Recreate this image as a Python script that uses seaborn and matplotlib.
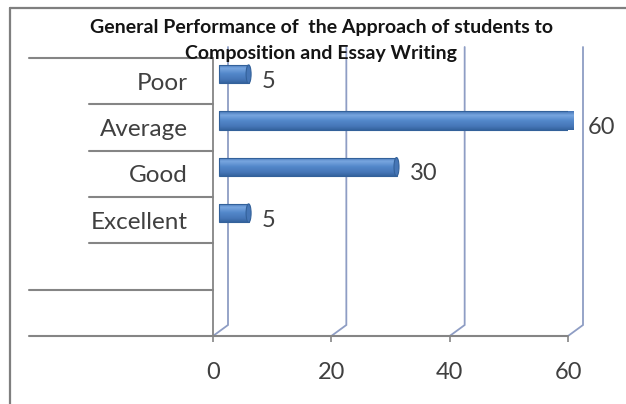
import numpy as np
import pandas as pd
import matplotlib
matplotlib.use("Agg")
import matplotlib.pyplot as plt
from matplotlib.lines import Line2D
from matplotlib.patches import Ellipse
from matplotlib.transforms import ScaledTranslation
from matplotlib.colors import to_rgb
import seaborn as sns

# Ratings and number of students in each
categories = ["Poor", "Average", "Good", "Excellent"]
students = [5, 60, 30, 5]
x_ticks = [0, 20, 40, 60]
title_lines = ["General Performance of  the Approach of students to",
               "Composition and Essay Writing"]

sns.set_theme(style="white")
plt.rcParams["font.family"] = ["Lato", "DejaVu Sans"]

TEXT = "#404040"
AXIS = "#858585"
WALL = "#8E9DC4"

W, H = 626, 404
fig = plt.figure(figsize=(W / 100, H / 100), dpi=100)
fig.patch.set_facecolor("white")
ax = fig.add_axes([213 / W, (H - 336) / H, (568 - 213) / W, (336 - 58) / H])
ax.set_facecolor("white")

df = pd.DataFrame({"rating": categories, "students": students})
sns.barplot(data=df, x="students", y="rating", orient="h", color="#4F81BD",
            width=0.40, errorbar=None, ax=ax, edgecolor="#33619A", linewidth=0.8)

n_slots = 6
ax.set_xlim(0, 60)
ax.set_ylim(n_slots - 0.5, -0.5)
for s in ax.spines.values():
    s.set_visible(False)

# pixel-per-unit scales for the pseudo 3D depth
bb = ax.get_window_extent()
ux = bb.width / 60.0
uy = bb.height / n_slots
dx, dy = 15 / ux, 11 / uy

# back wall gridlines with floor connectors
for v in x_ticks:
    ax.plot([v, v + dx, v + dx], [n_slots - 0.5, n_slots - 0.5 - dy, -0.5 - dy],
            color=WALL, lw=1.3, clip_on=False, zorder=1, solid_joinstyle="miter")

# front category axis
ax.plot([0, 0], [n_slots - 0.5, -0.5], color=AXIS, lw=1.3, clip_on=False, zorder=1.5)

# horizontal separators on the category side
sep_left_px = [29, 89, 89, 89, 89, 29]
for i, lp in enumerate(sep_left_px):
    ax.plot([(lp - 213) / ux, 0], [i - 0.5, i - 0.5], color=AXIS, lw=1.5,
            clip_on=False, zorder=1.5)
# floor / value axis line
ax.plot([(29 - 213) / ux, 60], [n_slots - 0.5, n_slots - 0.5], color=AXIS, lw=1.5,
        clip_on=False, zorder=1.5)

# cylinder-like shading for the bars
stops = [(0.0, "#4474B4"), (0.22, "#78A6E0"), (0.5, "#5388CA"), (0.8, "#4677B8"), (1.0, "#35639F")]
pos = np.linspace(0, 1, 64)
grad = np.zeros((64, 1, 3))
for c in range(3):
    grad[:, 0, c] = np.interp(pos, [s[0] for s in stops], [to_rgb(s[1])[c] for s in stops])

off = ScaledTranslation(6 / 100, 7 / 100, fig.dpi_scale_trans)
bars = list(ax.patches)
for p in bars:
    p.set_transform(ax.transData + off)
    p.set_facecolor("none")
    p.set_zorder(3)
    x0, y0, w, h = p.get_x(), p.get_y(), p.get_width(), p.get_height()
    im = ax.imshow(grad, extent=(x0, x0 + w, y0 + h, y0), origin="upper",
                   aspect="auto", interpolation="bilinear",
                   transform=ax.transData + off, zorder=2.5)
    im.set_clip_path(p)
    cap = Ellipse((x0 + w, y0 + h / 2), width=5 / ux, height=h, facecolor="#4676B6",
                  edgecolor="#33619A", lw=0.8, transform=ax.transData + off, zorder=3.2)
    ax.add_patch(cap)

ax.set_xlim(0, 60)
ax.set_ylim(n_slots - 0.5, -0.5)

# value labels
ax.bar_label(ax.containers[0], labels=[str(v) for v in students], padding=14,
             fontsize=17, color=TEXT)

ax.set_xticks(x_ticks)
ax.set_xticklabels([str(t) for t in x_ticks])
ax.set_xlabel("")
ax.set_ylabel("")
ax.tick_params(axis="x", bottom=True, length=4.5, width=1.2, color=AXIS, pad=14,
               labelsize=17, labelcolor=TEXT)
ax.tick_params(axis="y", left=False, length=0, pad=18, labelsize=17.5, labelcolor=TEXT)
ax.grid(False)

# title
fig.text(321 / W, 1 - 27 / H, title_lines[0], ha="center", va="center",
         fontsize=14, fontweight="bold", color="#141414")
fig.text(321 / W, 1 - 53 / H, title_lines[1], ha="center", va="center",
         fontsize=14, fontweight="bold", color="#141414")

# outer frame (top and left edges)
fig.add_artist(Line2D([10 / W, 10 / W], [0, 1 - 8 / H], transform=fig.transFigure,
                      color="#7f7f7f", lw=1.6))
fig.add_artist(Line2D([10 / W, 1], [1 - 8 / H, 1 - 8 / H], transform=fig.transFigure,
                      color="#7f7f7f", lw=1.6))

fig.savefig("out.png", dpi=100, facecolor="white")
